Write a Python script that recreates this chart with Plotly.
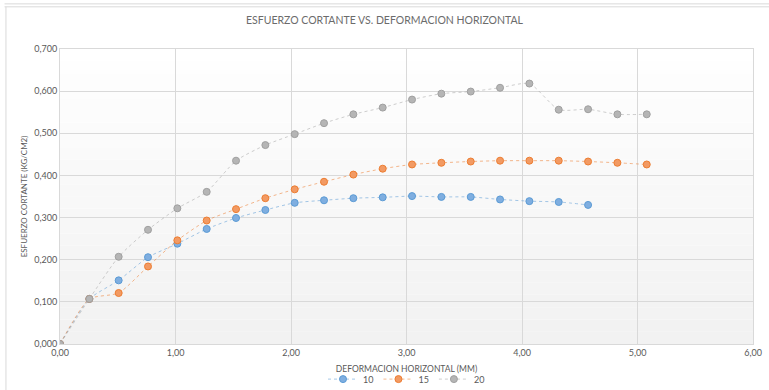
"""Esfuerzo cortante vs. deformacion horizontal (corte directo)."""

import plotly.graph_objects as go

# deformacion horizontal (mm), lecturas cada 0.254 mm
DEF_10 = [0.000, 0.254, 0.508, 0.762, 1.016, 1.270, 1.524, 1.778, 2.032, 2.286,
          2.540, 2.794, 3.048, 3.302, 3.556, 3.810, 4.064, 4.318, 4.572]
DEF_15 = [0.000, 0.254, 0.508, 0.762, 1.016, 1.270, 1.524, 1.778, 2.032, 2.286,
          2.540, 2.794, 3.048, 3.302, 3.556, 3.810, 4.064, 4.318, 4.572, 4.826, 5.080]
DEF_20 = [0.000, 0.254, 0.508, 0.762, 1.016, 1.270, 1.524, 1.778, 2.032, 2.286,
          2.540, 2.794, 3.048, 3.302, 3.556, 3.810, 4.064, 4.318, 4.572, 4.826, 5.080]

# esfuerzo cortante (kg/cm2)
ESF_10 = [0.000, 0.107, 0.151, 0.206, 0.238, 0.273, 0.299, 0.318, 0.335, 0.341,
          0.346, 0.348, 0.351, 0.349, 0.349, 0.343, 0.339, 0.337, 0.330]
ESF_15 = [0.000, 0.107, 0.121, 0.184, 0.246, 0.293, 0.320, 0.346, 0.367, 0.385,
          0.402, 0.416, 0.426, 0.430, 0.433, 0.435, 0.435, 0.435, 0.433, 0.430, 0.426]
ESF_20 = [0.000, 0.107, 0.207, 0.271, 0.322, 0.361, 0.435, 0.472, 0.498, 0.524,
          0.545, 0.561, 0.580, 0.594, 0.599, 0.608, 0.618, 0.556, 0.557, 0.545, 0.545]

SERIES = [
    ("10", DEF_10, ESF_10, "rgba(91,155,213,0.55)", "#7FAEE0", "#5B9BD5"),
    ("15", DEF_15, ESF_15, "rgba(237,125,49,0.55)", "#F29A63", "#ED7D31"),
    ("20", DEF_20, ESF_20, "rgba(165,165,165,0.55)", "#B5B5B5", "#A0A0A0"),
]

FONT = "Lato"
GRAY_TEXT = "#595959"
GRID = "#D9D9D9"


def add_background(fig, bands=24):
    """Degradado vertical del area de trazado (blanco arriba, gris abajo)."""
    for i in range(bands):
        t = i / (bands - 1)
        level = int(242 + (255 - 242) * t)
        fig.add_shape(
            type="rect", xref="paper", yref="paper",
            x0=0, x1=1, y0=i / bands, y1=(i + 1) / bands,
            fillcolor=f"rgb({level},{level},{level})",
            line=dict(width=0), layer="below",
        )


def add_frame(fig):
    """Bordes de la hoja visibles en la captura."""
    line = dict(color="#D9D9D9", width=1)
    fig.add_shape(type="line", xref="paper", yref="paper",
                  x0=-0.08, x1=1.03, y0=1.153, y1=1.153, line=line)
    fig.add_shape(type="line", xref="paper", yref="paper",
                  x0=-0.08, x1=1.03, y0=1.143, y1=1.143, line=line)
    fig.add_shape(type="line", xref="paper", yref="paper",
                  x0=-0.078, x1=-0.078, y0=-0.2, y1=1.143, line=line)


def main():
    fig = go.Figure()
    add_background(fig)
    add_frame(fig)

    for name, x, y, line_color, fill_color, edge_color in SERIES:
        fig.add_trace(
            go.Scatter(
                x=x, y=y, name=name,
                mode="lines+markers",
                line=dict(color=line_color, width=1, dash="dot",
                          shape="spline", smoothing=0.6),
                marker=dict(size=7, color=fill_color,
                            line=dict(color=edge_color, width=1)),
            )
        )

    fig.update_layout(
        width=769, height=390,
        margin=dict(l=60, r=16, t=49, b=46, autoexpand=False),
        paper_bgcolor="white",
        plot_bgcolor="rgba(0,0,0,0)",
        separators=",.",
        font=dict(family=FONT, color=GRAY_TEXT, size=9),
        title=dict(
            text="ESFUERZO CORTANTE VS. DEFORMACION HORIZONTAL",
            x=0.5, xanchor="center", y=0.949, yanchor="middle",
            font=dict(family=FONT, size=10.5, color="#6B6B6B"),
        ),
        xaxis=dict(
            range=[0, 6], dtick=1, tickformat=".2f",
            showgrid=True, gridcolor=GRID, gridwidth=1,
            showline=True, linecolor=GRID, mirror=True,
            zeroline=False, ticks="", automargin=False,
            tickfont=dict(size=9, color=GRAY_TEXT),
            title=dict(text="DEFORMACION HORIZONTAL (MM)",
                       font=dict(size=8.5, color=GRAY_TEXT), standoff=9),
        ),
        yaxis=dict(
            range=[0, 0.7], dtick=0.1, tickformat=".3f",
            showgrid=True, gridcolor=GRID, gridwidth=1,
            showline=True, linecolor=GRID, mirror=True,
            zeroline=False, ticks="", automargin=False,
            tickfont=dict(size=9, color=GRAY_TEXT),
            title=dict(text="ESFUERZO CORTANTE (KG/CM2)",
                       font=dict(size=8, color=GRAY_TEXT), standoff=5),
        ),
        legend=dict(
            orientation="h", x=0.5, xanchor="center",
            y=-0.119, yanchor="middle",
            font=dict(size=9, color=GRAY_TEXT),
            bgcolor="rgba(0,0,0,0)", itemwidth=30,
        ),
        showlegend=True,
    )

    # sin margen del body para que la figura ocupe la ventana completa
    fig.write_html(
        "out.html",
        config={"displayModeBar": False},
        post_script="document.body.style.margin='0px';",
    )


if __name__ == "__main__":
    main()
